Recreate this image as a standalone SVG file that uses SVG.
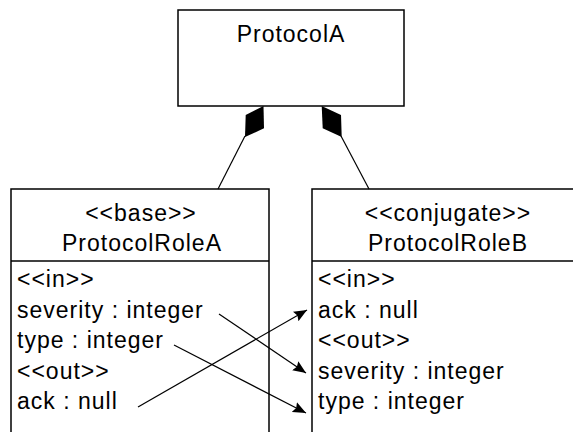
<svg xmlns="http://www.w3.org/2000/svg" width="573" height="432" viewBox="0 0 573 432">
<style>
.box{fill:#fff;stroke:#000;stroke-width:1.5}
.ln{stroke:#000;stroke-width:1.2;fill:none}
text{font-family:"Liberation Sans",Arial,sans-serif;font-size:23px;letter-spacing:1px;fill:#000}
.c{text-anchor:middle}
</style>
<defs>
<marker id="ah" markerUnits="userSpaceOnUse" markerWidth="16" markerHeight="14" refX="13" refY="7" orient="auto">
<path d="M0,1.5 L13,7 L0,12.5 L2,7 Z" fill="#000"/>
</marker>
</defs>
<rect width="573" height="432" fill="#fff"/>
<g id="ProtocolA">
<rect class="box" x="178" y="10" width="226" height="96"/>
<text class="c" x="291" y="42">ProtocolA</text>
</g>
<g id="ProtocolRoleA">
<rect class="box" x="11" y="189" width="258" height="260"/>
<line class="ln" x1="11" y1="261" x2="269" y2="261" style="stroke-width:1.5"/>
<text class="c" x="141" y="221">&lt;&lt;base&gt;&gt;</text>
<text class="c" x="142" y="251">ProtocolRoleA</text>
<text x="17" y="287">&lt;&lt;in&gt;&gt;</text>
<text x="17" y="318">severity : integer</text>
<text x="17" y="348">type : integer</text>
<text x="17" y="379">&lt;&lt;out&gt;&gt;</text>
<text x="17" y="409">ack : null</text>
</g>
<g id="ProtocolRoleB">
<rect class="box" x="312" y="189" width="300" height="260"/>
<line class="ln" x1="312" y1="261" x2="573" y2="261" style="stroke-width:1.5"/>
<text class="c" x="448" y="221">&lt;&lt;conjugate&gt;&gt;</text>
<text class="c" x="448" y="251">ProtocolRoleB</text>
<text x="318" y="287">&lt;&lt;in&gt;&gt;</text>
<text x="318" y="318">ack : null</text>
<text x="318" y="348">&lt;&lt;out&gt;&gt;</text>
<text x="318" y="379">severity : integer</text>
<text x="318" y="409">type : integer</text>
</g>
<g id="connectors">
<polygon points="263.5,106 245.7,115 245,137 264,128.3" fill="#000"/>
<line class="ln" x1="245" y1="136" x2="218" y2="189"/>
<polygon points="321.7,106 322.7,128.3 341.7,137 341,115" fill="#000"/>
<line class="ln" x1="341" y1="136" x2="369" y2="189"/>
<line class="ln" x1="219" y1="314" x2="306" y2="373" marker-end="url(#ah)"/>
<line class="ln" x1="174" y1="345" x2="306" y2="413" marker-end="url(#ah)"/>
<line class="ln" x1="138" y1="407" x2="307" y2="310" marker-end="url(#ah)"/>
</g>
</svg>
